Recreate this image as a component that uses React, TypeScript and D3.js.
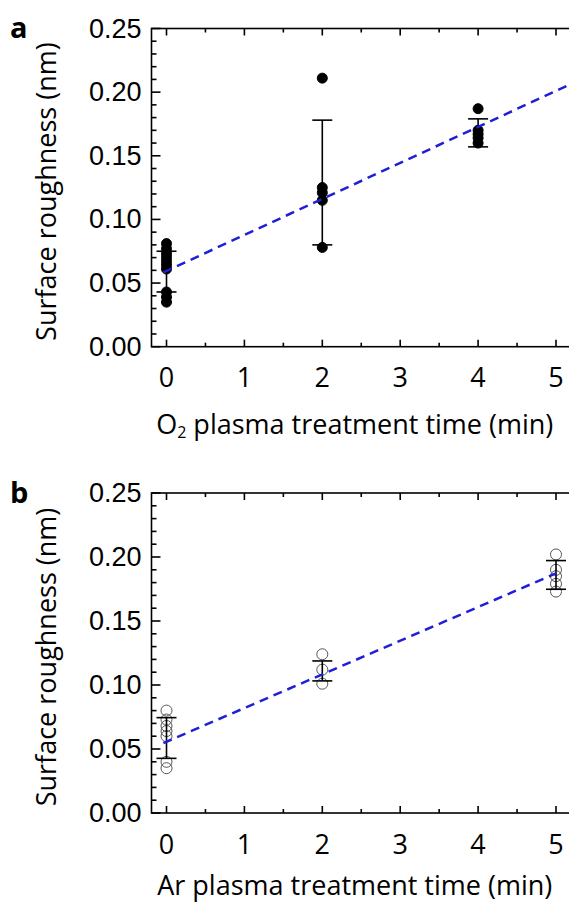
import React from "react";
import * as d3 from "d3";

// ---- data ----
const timesA = [0, 2, 4];
const pointsA = [
  [0.081, 0.077, 0.073, 0.07, 0.067, 0.064, 0.061, 0.043, 0.039, 0.035],
  [0.211, 0.125, 0.121, 0.115, 0.078],
  [0.187, 0.17, 0.167, 0.164, 0.16],
];
const meanA = [0.059, 0.129, 0.168];
const sdA = [0.016, 0.049, 0.011];
const fitA = [0.0595, 0.0283]; // intercept, slope
const fitRangeA = [-0.04, 5.4];

const timesB = [0, 2, 5];
const pointsB = [
  [0.08, 0.073, 0.068, 0.064, 0.06, 0.04, 0.035],
  [0.124, 0.112, 0.101],
  [0.202, 0.19, 0.185, 0.179, 0.173],
];
const meanB = [0.0586, 0.111, 0.186];
const sdB = [0.0159, 0.0078, 0.0112];
const fitB = [0.0557, 0.0263];
const fitRangeB = [-0.04, 5.0];

const xTicks = [0, 1, 2, 3, 4, 5];
const yTicks = [0, 0.05, 0.1, 0.15, 0.2, 0.25];
const yTickLabels = ["0.00", "0.05", "0.10", "0.15", "0.20", "0.25"];

const W = 569;
const H = 904;
const LEFT = 151.5;
const X0 = 166.5;
const PX_PER_UNIT = 77.9;
const xDomain = [-0.19, 5.35];
const TITLE_FONT = "'Open Sans', Lato, sans-serif";
const TICK_FONT = "'Liberation Sans', Arial, sans-serif";

function Panel({ top, bottom, times, points, mean, sd, fit, fitRange, filled, letter, titleMain, titleSub, titleOffset }: any) {
  const x = d3
    .scaleLinear()
    .domain(xDomain)
    .range([X0 + xDomain[0] * PX_PER_UNIT, X0 + xDomain[1] * PX_PER_UNIT]);
  const y = d3.scaleLinear().domain([0, 0.25]).range([bottom, top]);
  const right = x(xDomain[1]);
  const minorX = d3.range(0, 5.01, 0.5).filter((v) => !xTicks.includes(v));
  const minorY = d3.range(0, 0.2501, 0.01).filter((v) => !yTicks.some((t) => Math.abs(t - v) < 1e-6));
  const line = d3
    .line<number>()
    .x((d) => x(d))
    .y((d) => y(fit[0] + fit[1] * d));
  const cap = 10;
  return (
    <g>
      <text x={10} y={letter === "a" ? 38 : 503} fontFamily={TITLE_FONT} fontWeight="bold" fontSize={29}>
        {letter}
      </text>
      {/* points */}
      {times.map((t: number, i: number) =>
        points[i].map((v: number, j: number) => (
          <circle
            key={`p${i}-${j}`}
            cx={x(t)}
            cy={y(v)}
            r={filled ? 5 : 5.5}
            fill={filled ? "#000" : "none"}
            stroke={filled ? "#000" : "#555"}
            strokeWidth={1}
          />
        ))
      )}
      {/* error bars */}
      {times.map((t: number, i: number) => (
        <g key={`e${i}`} stroke="#000" strokeWidth={1.6}>
          <line x1={x(t)} x2={x(t)} y1={y(mean[i] - sd[i])} y2={y(mean[i] + sd[i])} />
          <line x1={x(t) - cap} x2={x(t) + cap} y1={y(mean[i] + sd[i])} y2={y(mean[i] + sd[i])} />
          <line x1={x(t) - cap} x2={x(t) + cap} y1={y(mean[i] - sd[i])} y2={y(mean[i] - sd[i])} />
        </g>
      ))}
      {/* fit line */}
      <path d={line(fitRange) || ""} stroke="#1f1fd8" strokeWidth={2.5} strokeDasharray="9,6" fill="none" />
      {/* frame */}
      <rect x={LEFT} y={top} width={right - LEFT} height={bottom - top} fill="none" stroke="#000" strokeWidth={1.6} />
      {/* x ticks */}
      {xTicks.map((t) => (
        <g key={`xt${t}`} stroke="#000" strokeWidth={1.6}>
          <line x1={x(t)} x2={x(t)} y1={bottom} y2={bottom - 7} />
          <line x1={x(t)} x2={x(t)} y1={top} y2={top + 7} />
        </g>
      ))}
      {minorX.map((t) => (
        <g key={`xm${t}`} stroke="#000" strokeWidth={1.6}>
          <line x1={x(t)} x2={x(t)} y1={bottom} y2={bottom - 4} />
          <line x1={x(t)} x2={x(t)} y1={top} y2={top + 4} />
        </g>
      ))}
      {xTicks.map((t) => (
        <text
          key={`xl${t}`}
          x={x(t)}
          y={bottom + 30}
          textAnchor="middle"
          dominantBaseline="central"
          fontFamily={TITLE_FONT}
          fontSize={27}
        >
          {t}
        </text>
      ))}
      {/* y ticks */}
      {yTicks.map((t) => (
        <line key={`yt${t}`} x1={LEFT} x2={LEFT + 9} y1={y(t)} y2={y(t)} stroke="#000" strokeWidth={1.6} />
      ))}
      {minorY.map((t) => (
        <line key={`ym${t}`} x1={LEFT} x2={LEFT + 5} y1={y(t)} y2={y(t)} stroke="#000" strokeWidth={1.6} />
      ))}
      {yTicks.map((t, i) => (
        <text
          key={`yl${t}`}
          x={LEFT - 10}
          y={y(t)}
          textAnchor="end"
          dominantBaseline="central"
          fontFamily={TICK_FONT}
          fontSize={27}
        >
          {yTickLabels[i]}
        </text>
      ))}
      {/* axis titles */}
      <text
        transform={`translate(45,${(top + bottom) / 2 + 4}) rotate(-90)`}
        textAnchor="middle"
        dominantBaseline="central"
        fontFamily={TITLE_FONT}
        fontSize={27}
      >
        Surface roughness (nm)
      </text>
      <text
        x={(x(0) + 555) / 2 - 6}
        y={bottom + titleOffset}
        textAnchor="middle"
        dominantBaseline="central"
        fontFamily={TITLE_FONT}
        fontSize={27}
      >
        {titleSub ? (
          <>
            <tspan>{titleMain}</tspan>
            <tspan fontSize={16} dy={9}>
              {titleSub}
            </tspan>
            <tspan dy={-9}> plasma treatment time (min)</tspan>
          </>
        ) : (
          <tspan>{titleMain} plasma treatment time (min)</tspan>
        )}
      </text>
    </g>
  );
}

export default function App() {
  return (
    <svg width={W} height={H} style={{ position: "absolute", left: 0, top: 0, background: "#fff" }}>
      <rect width={W} height={H} fill="#fff" />
      <Panel
        top={28.5}
        bottom={346.7}
        times={timesA}
        points={pointsA}
        mean={meanA}
        sd={sdA}
        fit={fitA}
        fitRange={fitRangeA}
        filled={true}
        letter="a"
        titleMain="O"
        titleSub="2"
        titleOffset={76}
      />
      <Panel
        top={493}
        bottom={813}
        times={timesB}
        points={pointsB}
        mean={meanB}
        sd={sdB}
        fit={fitB}
        fitRange={fitRangeB}
        filled={false}
        letter="b"
        titleMain="Ar"
        titleSub=""
        titleOffset={71}
      />
    </svg>
  );
}
